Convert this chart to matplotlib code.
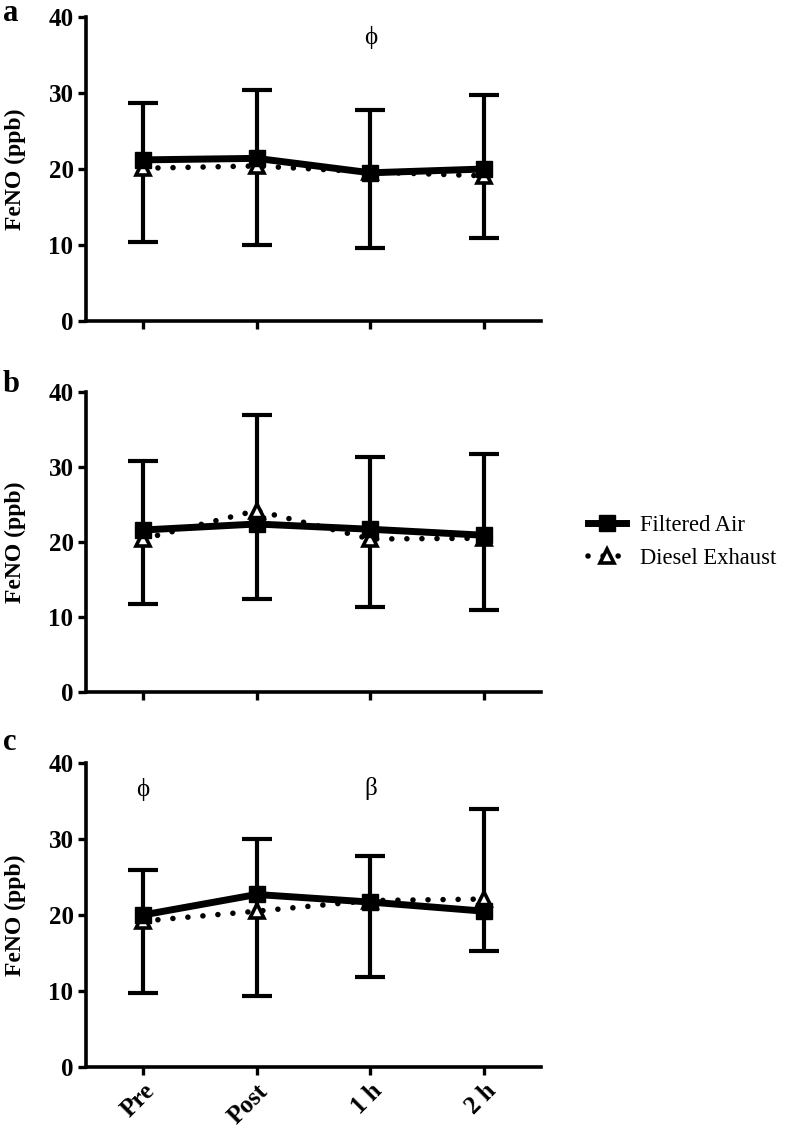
import numpy as np
import matplotlib
matplotlib.use('Agg')
import matplotlib.pyplot as plt
from matplotlib.lines import Line2D

plt.rcParams['font.family'] = ['Liberation Serif', 'DejaVu Serif']

times = ['Pre', 'Post', '1 h', '2 h']
panels = ['a', 'b', 'c']

# mean FeNO (ppb)
filtered_air = [[21.2, 21.4, 19.5, 20.0],
                [21.6, 22.4, 21.7, 20.9],
                [20.0, 22.7, 21.7, 20.5]]
diesel = [[20.1, 20.4, 19.6, 19.1],
          [20.4, 24.2, 20.4, 20.5],
          [19.2, 20.5, 21.9, 22.1]]
# error bar ends
err_low = [[10.4, 10.0, 9.6, 10.9],
           [11.8, 12.4, 11.3, 11.0],
           [9.8, 9.3, 11.9, 15.3]]
err_high = [[28.7, 30.4, 27.8, 29.7],
            [30.8, 37.0, 31.3, 31.8],
            [25.9, 30.0, 27.7, 34.0]]
# significance marks (panel, x index, y, symbol)
marks = [(0, 2, 37.3, 'ϕ'), (2, 0, 36.5, 'ϕ'), (2, 2, 36.6, 'β')]

W, H = 787, 1129
fig = plt.figure(figsize=(W / 100, H / 100), dpi=100)
# axes in pixels: left, top, right, bottom
px_boxes = [(86, 17, 541, 321), (86, 392, 541, 692), (86, 763, 541, 1067)]
label_base = [21, 392, 750]

dots = (0, (0.01, 2.7))
x = np.arange(len(times))
for k, (l, t, r, b) in enumerate(px_boxes):
    ax = fig.add_axes([l / W, 1 - b / H, (r - l) / W, (b - t) / H])
    fa = np.array(filtered_air[k])
    lo = fa - np.array(err_low[k])
    hi = np.array(err_high[k]) - fa
    ax.errorbar(x, fa, yerr=[lo, hi], fmt='none', ecolor='black',
                elinewidth=3.0, capsize=11, capthick=3.0, zorder=2)
    ax.plot(x, diesel[k], color='black', linestyle=dots,
            dash_capstyle='round', linewidth=4.0, marker='^', markersize=10,
            markerfacecolor='white', markeredgecolor='black',
            markeredgewidth=2.6, zorder=3)
    ax.plot(x, fa, color='black', linewidth=5, marker='s', markersize=11,
            zorder=4)
    ax.set_xlim(-0.5, 3.5)
    ax.set_ylim(0, 40)
    ax.set_yticks([0, 10, 20, 30, 40])
    ax.set_xticks(x)
    for s in ['top', 'right']:
        ax.spines[s].set_visible(False)
    for s in ['left', 'bottom']:
        ax.spines[s].set_linewidth(2.6)
    ax.tick_params(width=2.4, length=6, labelsize=18, pad=3)
    for tl in ax.get_yticklabels():
        tl.set_fontweight('bold')
    if k == 2:
        ax.set_xticklabels(times, rotation=45, ha='right',
                           rotation_mode='anchor', fontweight='bold',
                           fontsize=18)
    else:
        ax.set_xticklabels([])
    ax.set_ylabel('FeNO (ppb)', fontsize=17, fontweight='bold', labelpad=16)
    fig.text(3 / W, 1 - label_base[k] / H, panels[k], fontsize=22,
             fontweight='bold', va='baseline', ha='left')
    for p, xi, yv, sym in marks:
        if p == k:
            ax.text(xi, yv, sym, ha='center', va='center', fontsize=18)

handles = [Line2D([], [], color='black', linewidth=5, marker='s',
                  markersize=11),
           Line2D([], [], color='black', linestyle=dots,
                  dash_capstyle='round', linewidth=4.0, marker='^',
                  markersize=10, markerfacecolor='white',
                  markeredgecolor='black', markeredgewidth=2.6)]
fig.legend(handles, ['Filtered Air', 'Diesel Exhaust'], loc='center left',
           bbox_to_anchor=(572 / W, 1 - 542 / H), frameon=False, fontsize=16.3,
           handlelength=1.7, handletextpad=0.6, labelspacing=0.55,
           borderpad=0.2)

fig.savefig('out.png', dpi=100)
